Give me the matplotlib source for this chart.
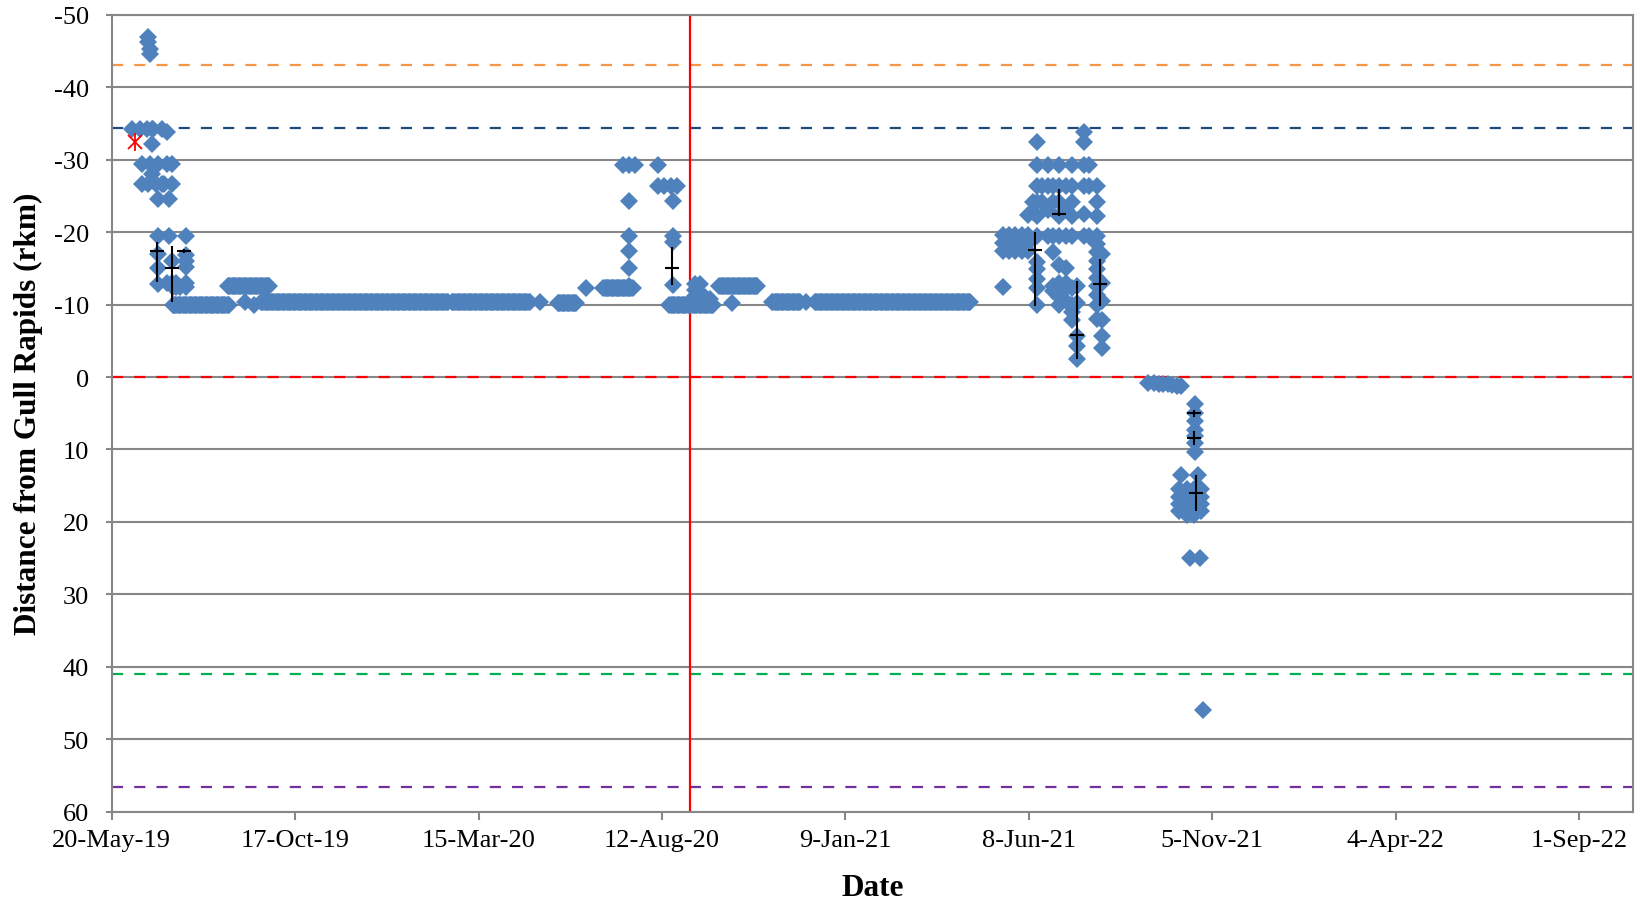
import matplotlib.pyplot as plt
import numpy as np
import pandas as pd

plt.rcParams['font.family'] = 'Liberation Serif'
plt.rcParams['axes.unicode_minus'] = False

BLUE = '#4F81BD'
GRID = '#878787'

# runs of daily detections sitting at one position (start, end, rkm)
run_start = ['2019-07-09', '2019-09-19', '2020-02-22', '2020-05-19', '2020-08-18',
             '2020-11-10', '2020-12-15', '2019-08-23', '2020-06-25', '2020-09-28']
run_end = ['2019-08-24', '2020-02-19', '2020-04-26', '2020-06-03', '2020-09-23',
           '2020-12-03', '2021-04-21', '2019-09-26', '2020-07-19', '2020-10-29']
run_rkm = [-9.9, -10.3, -10.3, -10.2, -10.0, -10.3, -10.3, -12.5, -12.3, -12.5]

# single detections, grouped by day
early_days = ['2019-06-06', '2019-06-12', '2019-06-14', '2019-06-18', '2019-06-19',
              '2019-06-20', '2019-06-22', '2019-06-23', '2019-06-25', '2019-06-27',
              '2019-06-30', '2019-07-02', '2019-07-04', '2019-07-06', '2019-07-08',
              '2019-07-09', '2019-07-12', '2019-07-15', '2019-07-20', '2019-09-06',
              '2019-09-13']
early_vals = [[-34.2], [-34.2], [-29.4, -26.6], [-34.2], [-46.9, -46.2, -26.6],
              [-45.2, -44.6, -29.4], [-32.1, -28.0, -34.2], [-34.2], [-26.6],
              [-29.4, -24.5, -19.5, -16.9, -15.0, -12.8],
              [-26.6, -34.2], [-26.6], [-33.8, -29.4, -13.0], [-24.5, -19.5],
              [-29.4, -26.6, -16.0, -13.0], [-12.4], [-12.4, -13.0], [-12.4],
              [-19.5, -16.8, -16.0, -15.2, -13.0, -12.4], [-10.4], [-9.9]]

aug20_days = ['2020-05-04', '2020-06-11', '2020-07-11', '2020-07-16', '2020-07-21',
              '2020-08-09', '2020-08-14', '2020-08-19', '2020-08-21', '2020-08-24',
              '2020-09-08', '2020-09-12', '2020-09-16', '2020-09-20', '2020-10-08',
              '2020-12-08']
aug20_vals = [[-10.3], [-12.3], [-29.3], [-29.3, -24.3, -19.5, -17.4, -15.0, -12.6],
              [-29.3], [-29.3, -26.4], [-26.4], [-26.4], [-24.3, -19.5, -18.6, -12.7],
              [-26.4], [-12.8, -12.0, -11.2], [-12.8, -11.5], [-11.0], [-10.8],
              [-10.2], [-10.3]]

jun21_days = ['2021-05-18', '2021-05-23', '2021-05-28', '2021-06-02', '2021-06-07',
              '2021-06-11', '2021-06-15', '2021-06-19', '2021-06-24', '2021-06-28',
              '2021-07-03', '2021-07-08', '2021-07-13', '2021-07-17', '2021-07-23',
              '2021-07-27', '2021-08-03', '2021-08-07']
jun21_vals = [[-19.6, -18.5, -17.4, -12.4],
              [-19.6, -17.4],
              [-19.6, -18.5, -17.4],
              [-19.6, -17.4],
              [-19.6, -18.5, -17.4, -22.4],
              [-24.1, -22.8],
              [-32.4, -29.2, -26.4, -24.1, -22.2, -19.5, -15.8, -14.9, -13.5, -12.3, -10.0],
              [-26.4, -24.1],
              [-29.2, -26.4, -23.0, -19.5],
              [-26.4, -24.1, -19.5, -17.2, -12.6, -11.8],
              [-29.2, -26.4, -24.1, -22.2, -19.5, -15.5, -13.0, -12.3, -11.0, -10.0],
              [-26.4, -23.0, -19.5, -15.0, -13.0, -12.3, -10.5],
              [-29.2, -26.4, -24.1, -22.2, -19.5, -12.3, -10.0, -9.0, -7.9],
              [-12.5, -10.2, -5.6, -4.3, -2.5],
              [-33.8, -32.4, -29.2, -26.4, -22.5, -19.5],
              [-29.2, -26.4, -19.5],
              [-26.4, -24.1, -22.2, -19.5, -18.3, -17.2, -16.0, -14.9, -13.6, -12.5,
               -11.3, -10.0, -8.0],
              [-17.0, -13.0, -10.5, -7.9, -5.6, -4.0]]

nov21_days = ['2021-09-13', '2021-09-18', '2021-09-22', '2021-09-26', '2021-09-30',
              '2021-10-03', '2021-10-07', '2021-10-09', '2021-10-10', '2021-10-15',
              '2021-10-18', '2021-10-21', '2021-10-22', '2021-10-24', '2021-10-26',
              '2021-10-27', '2021-10-28']
nov21_vals = [[0.8], [0.8], [0.9], [0.9], [1.0], [1.1], [1.2],
              [15.5, 16.5, 17.5, 18.5],
              [1.2, 13.5],
              [15.5, 16.5, 17.5, 18.5, 19.0],
              [24.9],
              [15.5, 16.5, 17.5, 18.5, 19.0],
              [3.7, 4.9, 6.1, 7.3, 8.2, 9.1, 10.3],
              [13.5], [24.9],
              [15.5, 16.5, 17.5, 18.5],
              [45.9]]

# mean positions with spread
mean_days = ['2019-06-26', '2019-07-08', '2019-07-18', '2020-08-20', '2021-06-13',
             '2021-07-03', '2021-07-17', '2021-08-05', '2021-10-21', '2021-10-21',
             '2021-10-23']
mean_rkm = [-17.4, -15.0, -17.4, -15.0, -17.5, -22.5, -5.8, -12.8, 5.0, 8.4, 16.0]
err_lo = [1.2, 3.1, 0.3, 3.0, 2.5, 3.5, 7.5, 3.5, 0.5, 1.0, 2.5]
err_hi = [4.3, 4.7, 0.3, 2.3, 7.7, 0.3, 3.3, 3.0, 0.5, 1.0, 2.5]

star_day = ['2019-06-08']
star_rkm = [-32.4]

hline_rkm = [-43.1, -34.3, 0, 41.0, 56.6]
hline_col = ['#F79646', '#1F497D', '#FF0000', '#00B050', '#7030A0']
vline_day = '2020-09-04'

xtick_days = ['2019-05-20', '2019-10-17', '2020-03-15', '2020-08-12', '2021-01-09',
              '2021-06-08', '2021-11-05', '2022-04-04', '2022-09-01']
xtick_labels = ['20-May-19', '17-Oct-19', '15-Mar-20', '12-Aug-20', '9-Jan-21',
                '8-Jun-21', '5-Nov-21', '4-Apr-22', '1-Sep-22']

MS = 9.2

fig = plt.figure(figsize=(16.35, 9.03), dpi=100)
ax = fig.add_axes([0.0683, 0.0997, 0.9305, 0.8831])

# reference lines
for v, c in zip(hline_rkm, hline_col):
    ax.axhline(v, color=c, lw=1.6, ls=(0, (5, 5)), zorder=2)
ax.axvline(pd.Timestamp(vline_day), color='#FF0000', lw=1.6, zorder=2)

# detections
for s, e, v in zip(run_start, run_end, run_rkm):
    d = pd.date_range(s, e, freq='D')
    ax.plot(d, [v] * len(d), 'D', color=BLUE, ms=MS, mew=0, zorder=3)

for days, vals in [(early_days, early_vals), (aug20_days, aug20_vals),
                   (jun21_days, jun21_vals), (nov21_days, nov21_vals)]:
    xs, ys = [], []
    for d, vs in zip(days, vals):
        for v in vs:
            xs.append(pd.Timestamp(d))
            ys.append(v)
    ax.plot(xs, ys, 'D', color=BLUE, ms=MS, mew=0, zorder=3)

ax.errorbar(pd.to_datetime(mean_days), mean_rkm, yerr=[err_lo, err_hi], fmt='_',
            color='black', ms=10, mew=1.5, elinewidth=1.5, capsize=0, zorder=4)

# release point (x + vertical bar = Excel star)
ax.plot(pd.to_datetime(star_day), star_rkm, ls='none', marker='x', color='#FF0000',
        ms=9.5, mew=1.3, zorder=5)
ax.plot(pd.to_datetime(star_day), star_rkm, ls='none', marker='|', color='#FF0000',
        ms=13, mew=1.3, zorder=5)

# axes
ax.set_xlim(pd.Timestamp('2019-05-20'), pd.Timestamp('2022-10-15'))
ax.set_ylim(60, -50)
ax.set_yticks(np.arange(-50, 61, 10))
ax.set_xticks(pd.to_datetime(xtick_days))
ax.set_xticklabels(xtick_labels)
ax.grid(axis='y', color=GRID, lw=1.5)
ax.set_axisbelow(True)
for sp in ax.spines.values():
    sp.set_color(GRID)
    sp.set_linewidth(1.5)
ax.tick_params(axis='x', length=6, width=1.5, color=GRID, labelsize=19, pad=6)
ax.tick_params(axis='y', length=4.5, width=1.5, color=GRID, labelsize=19, pad=12)

ax.set_xlabel('Date', fontsize=22.5, fontweight='bold')
ax.xaxis.set_label_coords(0.5, -0.076)
ax.set_ylabel('Distance from Gull Rapids (rkm)', fontsize=22.5, fontweight='bold')
ax.yaxis.set_label_coords(-0.045, 0.5)

plt.savefig('out.png', dpi=100)
